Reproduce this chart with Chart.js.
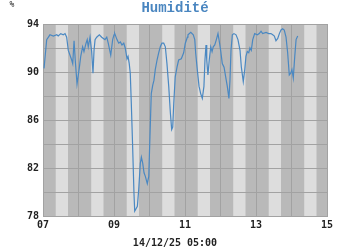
<!DOCTYPE html>
<html>
<head>
<meta charset="utf-8">
<script src="https://cdn.jsdelivr.net/npm/chart.js@4.4.1/dist/chart.umd.min.js"></script>
<style>
  html, body { margin: 0; padding: 0; background: #ffffff; }
  #wrap { position: relative; width: 350px; height: 250px; }
</style>
</head>
<body>
<div id="wrap"><canvas id="c" width="350" height="250"></canvas></div>
<script>
// ---- data (hours since 07 00:00) ----
const hours = [
  0.7, 2.5, 4.7, 7.0, 9.3, 10.3, 12.0, 13.7, 14.9, 16.0, 17.1, 19.4, 20.1, 21.0, 21.8, 23.0,
  24.5, 25.5, 26.8, 27.7, 29.1, 29.9, 30.6, 31.8, 32.9, 33.8, 34.5, 35.2, 36.3, 38.1, 39.7,
  40.8, 41.9, 43.1, 44.1, 45.8, 47.1, 48.0, 48.5, 50.0, 51.2, 52.3, 53.4, 54.6, 55.6, 56.8,
  57.5, 58.3, 59.0, 59.7, 60.6, 61.5, 62.0, 62.9, 63.8, 64.7, 65.8, 66.5, 67.4, 68.3, 69.2,
  70.5, 71.5, 72.3, 73.2, 74.2, 75.0, 75.9, 77.1, 78.2, 79.3, 80.4, 81.6, 82.7, 83.8, 85.0,
  86.1, 87.0, 87.7, 88.4, 89.4, 90.6, 91.7, 93.5, 95.1, 96.2, 97.6, 98.0, 99.9, 101.6, 102.6,
  103.2, 104.3, 105.5, 106.6, 107.7, 108.8, 109.5, 110.2, 110.7, 111.5, 112.4, 113.4, 114.3,
  115.1, 116.1, 117.2, 118.3, 119.0, 120.1, 121.2, 122.4, 123.5, 124.6, 125.7, 126.4, 127.1,
  128.0, 129.1, 130.5, 131.8, 133.2, 134.1, 135.4, 136.4, 137.2, 138.1, 139.1, 139.9, 140.8,
  141.8, 143.1, 144.9, 146.2, 147.4, 148.5, 150.8, 152.6, 154.1, 155.3, 156.4, 157.5, 158.7,
  159.8, 160.9, 162.0, 163.1, 164.3, 165.4, 166.5, 167.5, 168.3, 169.2, 170.2, 171.1, 172.2
];
const humidity = [
  90.3, 92.7, 93.1, 93.0, 93.1, 93.0, 93.2, 93.1, 93.2, 92.9, 91.8, 91.0, 90.7, 92.6, 91.0, 89.0,
  90.3, 91.3, 92.1, 91.7, 92.4, 92.7, 92.1, 92.9, 91.7, 89.9, 91.8, 92.7, 92.9, 93.1, 92.9,
  92.8, 92.7, 92.9, 92.4, 91.4, 92.7, 93.1, 93.2, 92.7, 92.4, 92.5, 92.25, 92.4, 92.0, 91.1,
  91.3, 90.7, 89.9, 87.4, 83.8, 79.9, 78.4, 78.6, 78.8, 80.2, 82.4, 82.9, 82.4, 81.6, 81.3,
  80.7, 81.3, 84.6, 88.2, 88.9, 89.3, 90.2, 91.0, 91.6, 92.1, 92.4, 92.4, 92.1, 90.7, 88.8,
  86.6, 85.2, 85.4, 87.4, 89.6, 90.4, 91.0, 91.1, 91.6, 92.4, 92.9, 93.1, 93.3, 93.1, 92.7,
  91.6, 90.2, 88.8, 88.2, 87.8, 88.8, 91.0, 92.25, 91.0, 89.75, 91.0, 92.1, 91.7,
  92.1, 92.25, 92.7, 93.2, 92.7, 91.8, 90.7, 90.4, 89.6, 88.8, 87.8, 89.3, 91.8,
  93.1, 93.2, 93.1, 92.7, 91.8, 90.4, 89.2, 90.2, 91.3, 91.7, 91.6, 92.0, 91.8,
  92.7, 93.2, 93.1, 93.2, 93.4, 93.2, 93.3, 93.2, 93.2, 93.1, 93.0, 92.6, 92.8,
  93.2, 93.5, 93.6, 93.5, 92.9, 91.6, 89.75, 89.9, 90.2, 89.5, 91.3, 92.7, 93.0
];
const xTickLabels = ["07", "09", "11", "13", "15"];
const yTickLabels = ["78", "82", "86", "90", "94"];
const titleText = "Humidité";
const unitText = "%";
const footerText = "14/12/25 05:00";
// daylight band per day (hours of day)
const dayStart = 8.6, dayEnd = 16.9;
const nDays = 8;

const points = hours.map((h, i) => ({ x: h, y: humidity[i] }));

const bandsPlugin = {
  id: 'bands',
  beforeDraw(chart) {
    const { ctx, chartArea: a, scales: { x } } = chart;
    ctx.save();
    ctx.fillStyle = '#b9b9b9';
    ctx.fillRect(a.left, a.top, a.right - a.left, a.bottom - a.top);
    ctx.fillStyle = '#dddddd';
    for (let d = 0; d < nDays; d++) {
      const x0 = x.getPixelForValue(d * 24 + dayStart);
      const x1 = x.getPixelForValue(d * 24 + dayEnd);
      ctx.fillRect(x0, a.top, x1 - x0, a.bottom - a.top);
    }
    ctx.restore();
  },
  afterDraw(chart) {
    const { ctx } = chart;
    ctx.save();
    ctx.textAlign = 'center';
    ctx.textBaseline = 'middle';
    ctx.fillStyle = '#4a86c0';
    ctx.font = 'bold 14px "Liberation Mono", monospace';
    ctx.fillText(titleText, 175, 8);
    ctx.fillStyle = '#222222';
    ctx.font = 'bold 10px "DejaVu Sans Mono", monospace';
    ctx.fillText(footerText, 175, 243);
    ctx.font = '8px "DejaVu Sans Mono", monospace';
    ctx.fillText(unitText, 12, 5);
    ctx.restore();
  }
};

new Chart(document.getElementById('c'), {
  type: 'line',
  data: {
    datasets: [{
      data: points,
      borderColor: '#4a88c2',
      borderWidth: 1.2,
      pointRadius: 0,
      tension: 0,
      fill: false
    }]
  },
  options: {
    responsive: false,
    animation: false,
    layout: { padding: { left: 0, right: 23, top: 24, bottom: 0 } },
    plugins: { legend: { display: false }, tooltip: { enabled: false }, title: { display: false } },
    scales: {
      x: {
        type: 'linear', min: 0, max: 192,
        afterFit(s) { s.height = 34; },
        grid: { color: '#a2a2a2', lineWidth: 1, drawTicks: false },
        border: { color: '#a2a2a2' },
        ticks: {
          stepSize: 24, autoSkip: false, maxRotation: 0, padding: 3,
          color: '#222222',
          font: { family: '"DejaVu Sans Mono", monospace', size: 10, weight: 'bold' },
          callback: (v) => (v % 48 === 0 ? xTickLabels[v / 48] : '')
        }
      },
      y: {
        min: 78, max: 94,
        afterFit(s) { s.width = 43; },
        grid: { color: '#a2a2a2', lineWidth: 1, drawTicks: false },
        border: { color: '#a2a2a2' },
        ticks: {
          stepSize: 2, autoSkip: false, padding: 4,
          color: '#222222',
          font: { family: '"DejaVu Sans Mono", monospace', size: 10, weight: 'bold' },
          callback: (v) => (yTickLabels.includes(String(v)) ? String(v) : '')
        }
      }
    }
  },
  plugins: [bandsPlugin]
});
</script>
</body>
</html>
